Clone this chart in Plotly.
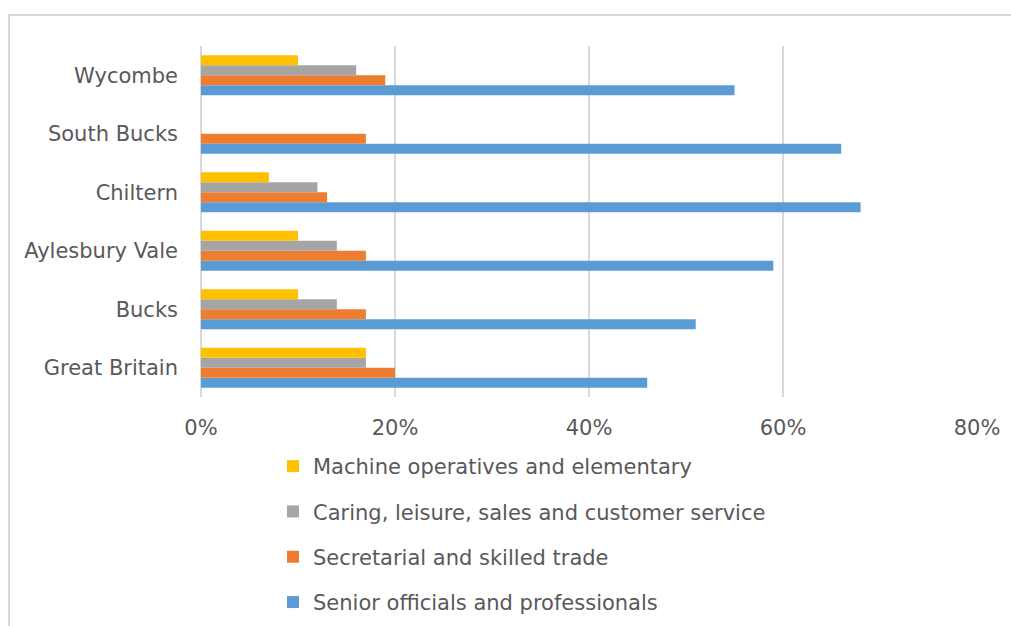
import plotly.graph_objects as go

# Areas, listed bottom to top on the category axis
areas = ["Great Britain", "Bucks", "Aylesbury Vale", "Chiltern", "South Bucks", "Wycombe"]

# Share of employment by occupation group (fractions)
senior = [0.46, 0.51, 0.59, 0.68, 0.66, 0.55]
secretarial = [0.20, 0.17, 0.17, 0.13, 0.17, 0.19]
caring = [0.17, 0.14, 0.14, 0.12, None, 0.16]
machine = [0.17, 0.10, 0.10, 0.07, None, 0.10]

series_names = [
    "Senior officials and professionals",
    "Secretarial and skilled trade",
    "Caring, leisure, sales and customer service",
    "Machine operatives and elementary",
]
series_values = [senior, secretarial, caring, machine]
series_colors = ["#5B9BD5", "#ED7D31", "#A5A5A5", "#FFC000"]

x_ticks = [0, 0.2, 0.4, 0.6, 0.8]
x_tick_labels = ["0%", "20%", "40%", "60%", "80%"]

FONT = "DejaVu Sans"
FS = 21
TEXT = "#595959"
GRID = "#D9D9D9"

fig = go.Figure()
n = len(series_names)
for i, (name, vals, col) in enumerate(zip(series_names, series_values, series_colors)):
    fig.add_trace(go.Bar(
        y=areas, x=vals, name=name, orientation="h",
        marker=dict(color=col, line=dict(width=0)),
        legendgroup=name,
        legendrank=n - i,  # top legend entry is the top bar of each group
    ))

W, H = 1011, 626
ml, mr, mt, mb = 201, 34, 46, 229
pw, ph = W - ml - mr, H - mt - mb

# light frame along the top and left edges
bx = (9 - ml) / pw
by = 1 + (mt - 15) / ph
fig.add_shape(type="rect", xref="paper", yref="paper",
              x0=bx, x1=2.0, y0=-2.0, y1=by,
              line=dict(color=GRID, width=2), fillcolor="rgba(0,0,0,0)", layer="below")

fig.update_layout(
    width=W, height=H,
    margin=dict(l=ml, r=mr, t=mt, b=mb, pad=0, autoexpand=False),
    paper_bgcolor="white", plot_bgcolor="white",
    barmode="group", bargap=0.316, bargroupgap=0,
    font=dict(family=FONT, size=FS, color=TEXT),
    showlegend=True,
    legend=dict(
        orientation="v", traceorder="grouped",
        x=(273 - ml) / pw, y=-(446 - (mt + ph)) / ph,
        xanchor="left", yanchor="top",
        font=dict(family=FONT, size=FS, color=TEXT),
        tracegroupgap=15, itemwidth=30,
        bgcolor="rgba(0,0,0,0)", borderwidth=0,
    ),
    xaxis=dict(
        range=[0, 0.8], tickvals=x_ticks, ticktext=x_tick_labels,
        showgrid=True, gridcolor=GRID, gridwidth=1.5,
        zeroline=True, zerolinecolor=GRID, zerolinewidth=1.5,
        showline=False, ticks="", ticklabelstandoff=16,
        tickangle=0,
        tickfont=dict(family=FONT, size=FS, color=TEXT),
        fixedrange=True,
    ),
    yaxis=dict(
        categoryorder="array", categoryarray=areas,
        showgrid=False, zeroline=False, showline=False, ticks="",
        ticklabelstandoff=22,
        tickfont=dict(family=FONT, size=FS, color=TEXT),
        fixedrange=True,
    ),
)

fig.write_html("out.html")
